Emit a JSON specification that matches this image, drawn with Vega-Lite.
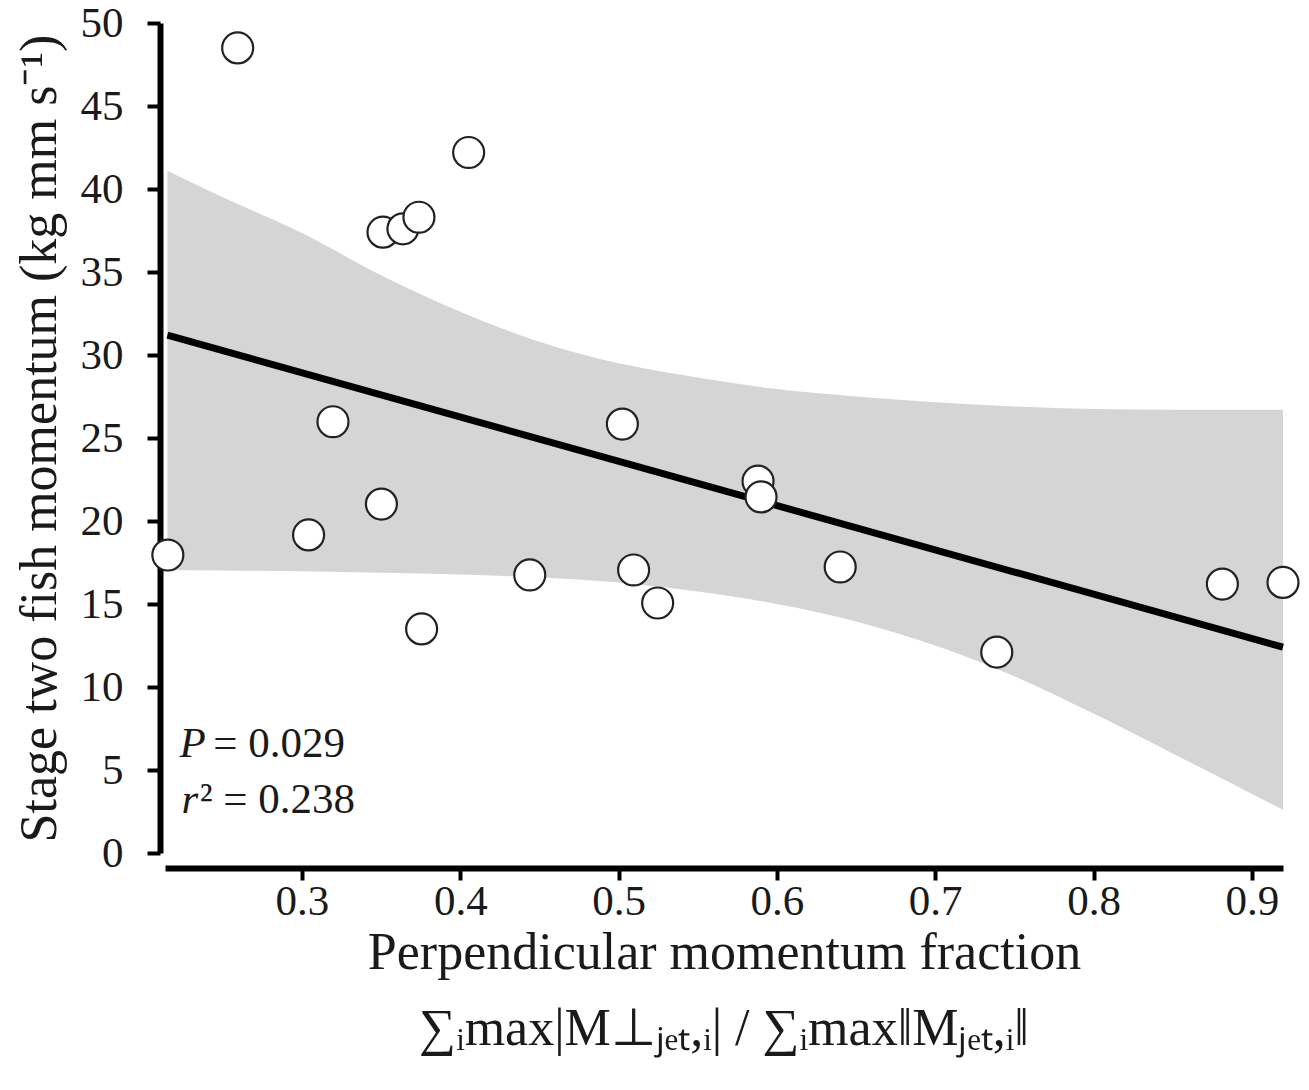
{
  "$schema": "https://vega.github.io/schema/vega-lite/v6.json",
  "width": 1118,
  "height": 830,
  "autosize": {"type": "none"},
  "padding": {"left": 165, "top": 23, "right": 26, "bottom": 237},
  "background": "white",
  "config": {
    "view": {"stroke": null},
    "font": "Liberation Serif",
    "axis": {
      "grid": false,
      "domainColor": "#000000",
      "domainWidth": 6,
      "tickColor": "#000000",
      "tickWidth": 4,
      "labelFont": "Liberation Serif",
      "labelFontSize": 43,
      "labelColor": "#1a1a1a",
      "titleFont": "Liberation Serif",
      "titleFontSize": 52,
      "titleFontWeight": "normal",
      "titleColor": "#1a1a1a"
    }
  },
  "title": {
    "text": "∑ᵢmax|M⊥ⱼₑₜ,ᵢ| / ∑ᵢmax‖Mⱼₑₜ,ᵢ‖",
    "orient": "bottom",
    "anchor": "middle",
    "font": "Liberation Serif",
    "fontSize": 52,
    "fontWeight": "normal",
    "color": "#1a1a1a",
    "offset": 26
  },
  "datasets": {
    "points": [
      {"x": 0.2594, "y": 48.5},
      {"x": 0.4053, "y": 42.2},
      {"x": 0.3512, "y": 37.4},
      {"x": 0.3638, "y": 37.6},
      {"x": 0.3739, "y": 38.3},
      {"x": 0.3196, "y": 25.98},
      {"x": 0.5024, "y": 25.84},
      {"x": 0.2153, "y": 17.95},
      {"x": 0.3042, "y": 19.16},
      {"x": 0.3502, "y": 21.02},
      {"x": 0.3756, "y": 13.5},
      {"x": 0.4439, "y": 16.75},
      {"x": 0.5095, "y": 17.05},
      {"x": 0.5247, "y": 15.06},
      {"x": 0.5881, "y": 22.4},
      {"x": 0.59, "y": 21.45},
      {"x": 0.64, "y": 17.23},
      {"x": 0.7389, "y": 12.1},
      {"x": 0.8814, "y": 16.2},
      {"x": 0.9197, "y": 16.3}
    ],
    "band": [
      {"x": 0.215, "lo": 17.05, "hi": 41.1},
      {"x": 0.25, "lo": 17.02, "hi": 39.5},
      {"x": 0.3, "lo": 16.98, "hi": 37.35},
      {"x": 0.35, "lo": 16.88, "hi": 34.8},
      {"x": 0.4, "lo": 16.78, "hi": 32.6},
      {"x": 0.45, "lo": 16.6, "hi": 30.8},
      {"x": 0.5, "lo": 16.3, "hi": 29.5},
      {"x": 0.55, "lo": 15.75, "hi": 28.65},
      {"x": 0.6, "lo": 15.0, "hi": 27.95},
      {"x": 0.65, "lo": 13.95, "hi": 27.5},
      {"x": 0.7, "lo": 12.5, "hi": 27.15},
      {"x": 0.75, "lo": 10.65, "hi": 26.9},
      {"x": 0.8, "lo": 8.4, "hi": 26.75},
      {"x": 0.85, "lo": 6.0, "hi": 26.7},
      {"x": 0.9197, "lo": 2.6, "hi": 26.7}
    ],
    "fit": [
      {"x": 0.215, "y": 31.2},
      {"x": 0.9197, "y": 12.4}
    ],
    "stats": [
      {"label": "P", "x": 0.2227, "y": 5.78, "kind": "var"},
      {"label": "= 0.029", "x": 0.244, "y": 5.78, "kind": "val"},
      {"label": "r", "x": 0.224, "y": 2.41, "kind": "var"},
      {"label": "² = 0.238", "x": 0.2354, "y": 2.41, "kind": "val"}
    ]
  },
  "encoding": {
    "x": {
      "field": "x",
      "type": "quantitative",
      "scale": {"domain": [0.2135, 0.9197], "nice": false, "zero": false},
      "axis": {
        "values": [0.3, 0.4, 0.5, 0.6, 0.7, 0.8, 0.9],
        "format": ".1f",
        "offset": 15,
        "tickSize": 12,
        "labelPadding": 0,
        "labelFlush": false,
        "title": "Perpendicular momentum fraction",
        "titlePadding": 4
      }
    }
  },
  "layer": [
    {
      "data": {"name": "band"},
      "mark": {"type": "area", "color": "#d5d5d5", "opacity": 1, "interpolate": "monotone"},
      "encoding": {
        "y": {
          "field": "lo",
          "type": "quantitative",
          "scale": {"domain": [0, 50], "nice": false, "zero": false},
          "axis": {
            "values": [0, 5, 10, 15, 20, 25, 30, 35, 40, 45, 50],
            "offset": 5,
            "tickSize": 13,
            "labelPadding": 24,
            "title": "Stage two fish momentum (kg mm s⁻¹)",
            "titlePadding": 14
          }
        },
        "y2": {"field": "hi"}
      }
    },
    {
      "data": {"name": "fit"},
      "mark": {"type": "line", "color": "#000000", "strokeWidth": 7},
      "encoding": {
        "y": {"field": "y", "type": "quantitative"}
      }
    },
    {
      "data": {"name": "points"},
      "mark": {"type": "point", "shape": "circle", "filled": false, "fill": "#ffffff", "fillOpacity": 1, "stroke": "#222222", "strokeWidth": 2.2, "size": 960, "opacity": 1},
      "encoding": {
        "y": {"field": "y", "type": "quantitative"}
      }
    },
    {
      "data": {"name": "stats"},
      "transform": [{"filter": "datum.kind === 'var'"}],
      "mark": {"type": "text", "align": "left", "baseline": "alphabetic", "fontSize": 43, "fontStyle": "italic", "color": "#1a1a1a", "font": "Liberation Serif"},
      "encoding": {
        "y": {"field": "y", "type": "quantitative"},
        "text": {"field": "label"}
      }
    },
    {
      "data": {"name": "stats"},
      "transform": [{"filter": "datum.kind === 'val'"}],
      "mark": {"type": "text", "align": "left", "baseline": "alphabetic", "fontSize": 43, "color": "#1a1a1a", "font": "Liberation Serif"},
      "encoding": {
        "y": {"field": "y", "type": "quantitative"},
        "text": {"field": "label"}
      }
    }
  ]
}
